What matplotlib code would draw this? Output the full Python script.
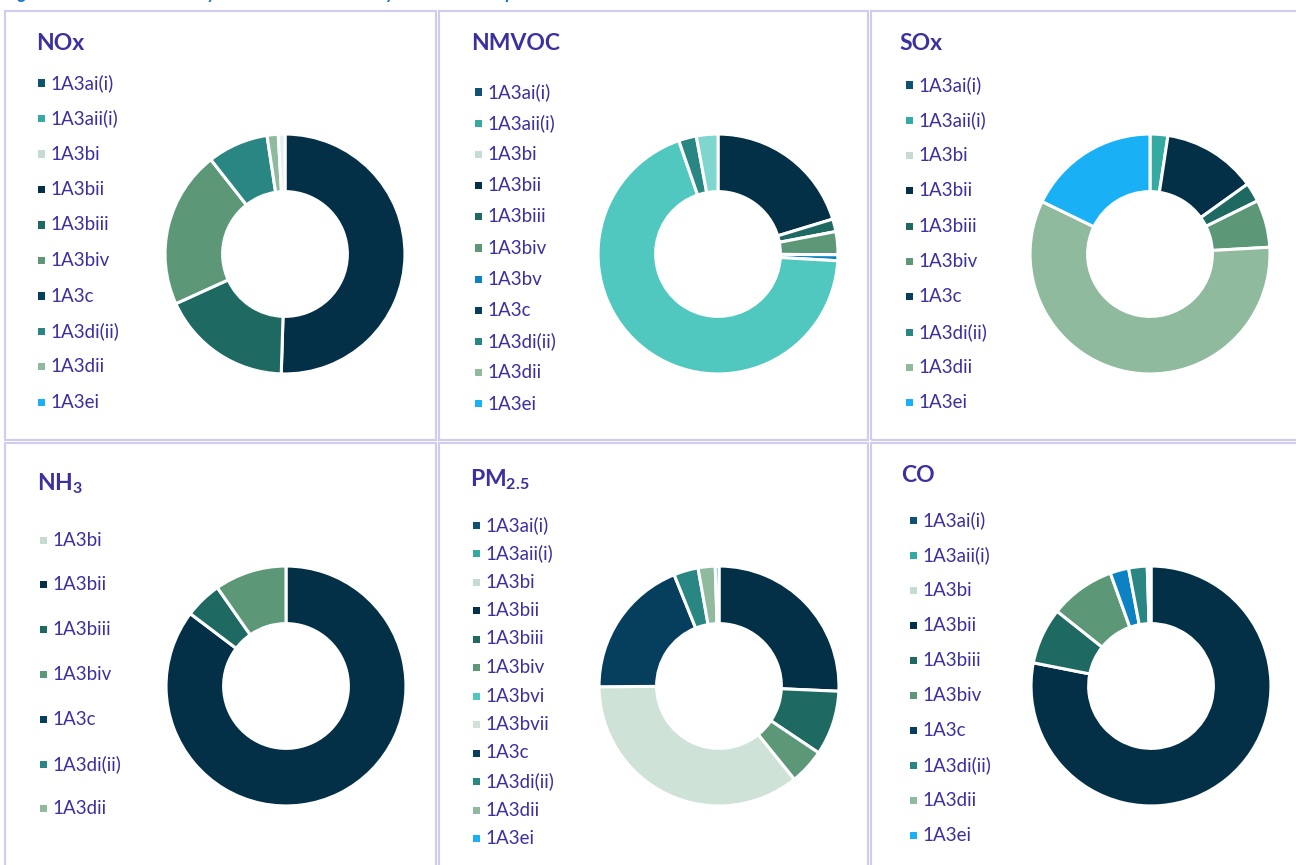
import matplotlib
matplotlib.use("Agg")
import matplotlib.pyplot as plt
from matplotlib.patches import Rectangle

W, H = 1296, 865

plt.rcParams['font.family'] = ['Lato', 'DejaVu Sans']
plt.rcParams['mathtext.fontset'] = 'custom'
plt.rcParams['mathtext.rm'] = 'Lato'
plt.rcParams['mathtext.bf'] = 'Lato:bold'

# colours used by the sub-sector categories
PALETTE = {
    '1A3ai(i)': '#0E5272',
    '1A3aii(i)': '#35AAA2',
    '1A3bi': '#C5DDD0',
    '1A3bii': '#033047',
    '1A3biii': '#1F6963',
    '1A3biv': '#5C9877',
    '1A3bv': '#0C82C2',
    '1A3bvi': '#50C8C0',
    '1A3bvii': '#CFE2D7',
    '1A3c': '#063E5E',
    '1A3di(ii)': '#2A8682',
    '1A3dii': '#8FBA9E',
    '1A3ei': '#1AB0F5',
}

# legend entries of each panel
legend_full = ['1A3ai(i)', '1A3aii(i)', '1A3bi', '1A3bii', '1A3biii', '1A3biv',
               '1A3c', '1A3di(ii)', '1A3dii', '1A3ei']
legend_nmvoc = ['1A3ai(i)', '1A3aii(i)', '1A3bi', '1A3bii', '1A3biii', '1A3biv',
                '1A3bv', '1A3c', '1A3di(ii)', '1A3dii', '1A3ei']
legend_nh3 = ['1A3bi', '1A3bii', '1A3biii', '1A3biv', '1A3c', '1A3di(ii)', '1A3dii']
legend_pm = ['1A3ai(i)', '1A3aii(i)', '1A3bi', '1A3bii', '1A3biii', '1A3biv',
             '1A3bvi', '1A3bvii', '1A3c', '1A3di(ii)', '1A3dii', '1A3ei']

# donut shares (%) read clockwise from 12 o'clock
nox_keys = ['1A3bii', '1A3biii', '1A3biv', '1A3di(ii)', '1A3dii', '1A3ei']
nox_vals = [50.5, 17.7, 21.2, 8.2, 1.5, 0.9]

nmvoc_keys = ['1A3bii', '1A3biii', '1A3biv', '1A3bv', '1A3bvi', '1A3di(ii)', '1A3dii']
nmvoc_vals = [20.3, 1.7, 3.1, 0.8, 68.8, 2.4, 2.9]

sox_keys = ['1A3aii(i)', '1A3bii', '1A3biii', '1A3biv', '1A3dii', '1A3ei']
sox_vals = [2.4, 12.7, 2.6, 6.4, 58.1, 17.8]

nh3_keys = ['1A3bii', '1A3biii', '1A3biv']
nh3_vals = [85.3, 5.0, 9.7]

pm_keys = ['1A3bii', '1A3biii', '1A3biv', '1A3bvii', '1A3c', '1A3di(ii)', '1A3dii', '1A3ei']
pm_vals = [25.7, 8.7, 4.8, 35.7, 19.0, 3.3, 2.3, 0.5]

co_keys = ['1A3bii', '1A3biii', '1A3biv', '1A3bv', '1A3di(ii)', '1A3dii']
co_vals = [78.1, 7.6, 8.8, 2.5, 2.5, 0.5]

# slices drawn in another shade than the legend square
overrides = {
    'NOx': {'1A3ei': '#DDEFF3'},
    'NMVOC': {'1A3dii': '#7FD6CF'},
    'CO': {'1A3dii': '#F2F6F5'},
}

panels = [
    # title, legend, keys, values, title xy, legend x, first row y, row step, donut centre
    ('NOx', legend_full, nox_keys, nox_vals, (36, 44), 38, 83, 35.5, (285, 254)),
    ('NMVOC', legend_nmvoc, nmvoc_keys, nmvoc_vals, (471, 44), 475, 92, 31.2, (718, 254)),
    ('SOx', legend_full, sox_keys, sox_vals, (899, 44), 906, 85, 35.3, (1150, 254)),
    (r'$\mathbf{NH_3}$', legend_nh3, nh3_keys, nh3_vals, (37, 484), 40, 540, 44.8, (286, 686)),
    (r'$\mathbf{PM_{2.5}}$', legend_pm, pm_keys, pm_vals, (470, 480), 473, 525, 28.5, (719, 686)),
    ('CO', legend_full, co_keys, co_vals, (901, 475), 910, 520, 35.1, (1151, 686)),
]

TXT = '#3B30A0'
BORDER = '#D0CCF0'
R = 120

fig = plt.figure(figsize=(W / 100, H / 100), dpi=100)
fig.patch.set_facecolor('white')


def fx(x):
    return x / W


def fy(y):
    return 1 - y / H


# panel frames
for (x0, y0, x1, y1) in [(5, 11, 436, 440), (439, 11, 868, 440), (871, 11, 1310, 440),
                         (5, 443, 436, 880), (439, 443, 868, 880), (871, 443, 1310, 880)]:
    fig.patches.append(Rectangle((fx(x0), fy(y1)), fx(x1 - x0), (y1 - y0) / H,
                                 transform=fig.transFigure, fill=False,
                                 edgecolor=BORDER, linewidth=1.5))

# caption cropped off at the very top, only its descenders show
fig.text(fx(4), fy(-1), 'Figure 7: Emission shares by individual subsector by each relevant pollutant',
         color='#1A78C8', fontsize=13, fontstyle='italic', fontweight='bold', va='baseline')

for title, legend, keys, vals, (tx, ty), lx, ly, step, (cx, cy) in panels:
    fig.text(fx(tx), fy(ty), title, color=TXT, fontsize=16.5, fontweight='bold', va='center')

    for i, lab in enumerate(legend):
        yy = ly + i * step
        fig.patches.append(Rectangle((fx(lx), fy(yy + 3.5)), fx(7), 7 / H,
                                     transform=fig.transFigure, color=PALETTE[lab], lw=0))
        fig.text(fx(lx + 12), fy(yy), lab, color=TXT, fontsize=13.5, va='center')

    ov = overrides.get(title, {})
    cols = [ov.get(k, PALETTE[k]) for k in keys]
    ax = fig.add_axes([fx(cx - R - 2), fy(cy + R + 2), fx(2 * R + 4), (2 * R + 4) / H])
    ax.pie(vals, colors=cols, startangle=90, counterclock=False, radius=1,
           wedgeprops=dict(width=0.48, edgecolor='white', linewidth=2.2))
    ax.set_xlim(-1.017, 1.017)
    ax.set_ylim(-1.017, 1.017)
    ax.set_aspect('equal')
    ax.axis('off')

fig.savefig('out.png', dpi=100)
